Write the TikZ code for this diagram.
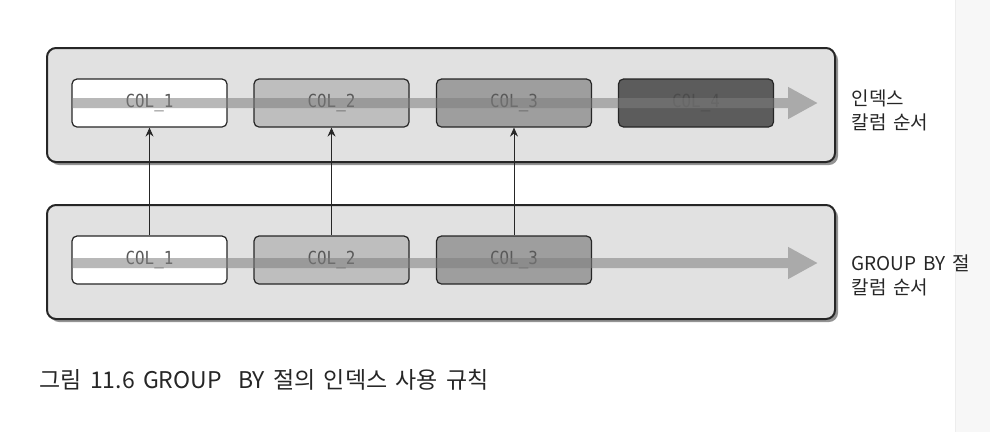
\documentclass[tikz,border=0pt]{standalone}
\usepackage{fontspec}
\newfontfamily\krfont{Noto Sans CJK KR}
\newfontfamily\krlabel{Noto Sans CJK KR}[WordSpace=1.6]
\newfontfamily\colfont{DejaVu Sans Mono}[FakeStretch=0.88]
\usetikzlibrary{arrows.meta,shadows}

\definecolor{panelgray}{HTML}{E1E1E1}
\definecolor{bandgray}{HTML}{7E7E7E}
\definecolor{coltwo}{HTML}{BEBEBE}
\definecolor{colthree}{HTML}{9E9E9E}
\definecolor{colfour}{HTML}{5C5C5C}

\begin{document}
\begin{tikzpicture}[x=1pt, y=-1pt,
    panel/.style={draw=black!85, line width=2pt, rounded corners=9pt, fill=panelgray,
      minimum width=788pt, minimum height=114pt, inner sep=0pt,
      drop shadow={shadow xshift=3pt, shadow yshift=-3pt, fill=black!60, opacity=0.7}},
    colbox/.style={draw=black!85, line width=1.2pt, rounded corners=5pt, minimum width=155pt,
      minimum height=48pt, inner sep=0pt, text=black!65, font=\colfont\fontsize{18}{18}\selectfont},
    band/.style={line width=10pt, draw=bandgray, -{Triangle[length=30pt, width=30pt]}},
    lookup/.style={line width=0.8pt, black!85, -{Stealth[length=9pt, width=8pt, inset=3pt]}},
    sidelabel/.style={anchor=west, align=left, text=black!85, font=\krlabel\fontsize{19}{24}\selectfont}]

    \useasboundingbox (0,0) rectangle (990,432);
    \fill[black!3] (955,0) rectangle (990,432);
    \draw[black!7, line width=1pt] (955,0) -- (955,432);

    % Panels
    \node[panel] (idxpanel) at (441,105) {};
    \node[panel] (grppanel) at (441,262) {};

    % Index columns
    \node[colbox, fill=white]    at (149.5,103) (a1) {COL\_1};
    \node[colbox, fill=coltwo]   at (331.5,103) (a2) {COL\_2};
    \node[colbox, fill=colthree] at (514,103)   (a3) {COL\_3};
    \node[colbox, fill=colfour, text=black!70] at (696,103) (a4) {COL\_4};

    % GROUP BY columns
    \node[colbox, fill=white]    at (149.5,260) (b1) {COL\_1};
    \node[colbox, fill=coltwo]   at (331.5,260) (b2) {COL\_2};
    \node[colbox, fill=colthree] at (514,260)   (b3) {COL\_3};

    % Order arrows
    \coordinate (idxstart) at (72,103);
    \coordinate (idxend)   at (818,103);
    \coordinate (grpstart) at (72,263);
    \coordinate (grpend)   at (818,263);
    \begin{scope}[transparency group, opacity=0.55]
      \draw[band] (idxstart) -- (idxend);
    \end{scope}
    \begin{scope}[transparency group, opacity=0.55]
      \draw[band] (grpstart) -- (grpend);
    \end{scope}

    \draw[lookup] (b1) -- (a1);
    \draw[lookup] (b2) -- (a2);
    \draw[lookup] (b3) -- (a3);

    \node[sidelabel] (idxlabel) at (848,110) {인덱스\\칼럼 순서};
    \node[sidelabel] (grplabel) at (848,275) {GROUP BY 절\\칼럼 순서};

    \node[anchor=west, text=black!85, font=\krfont\fontsize{23}{23}\selectfont] (caption) at (36,380)
      {그림 11.6 GROUP\ \ BY 절의 인덱스 사용 규칙};

  \end{tikzpicture}
\end{document}
